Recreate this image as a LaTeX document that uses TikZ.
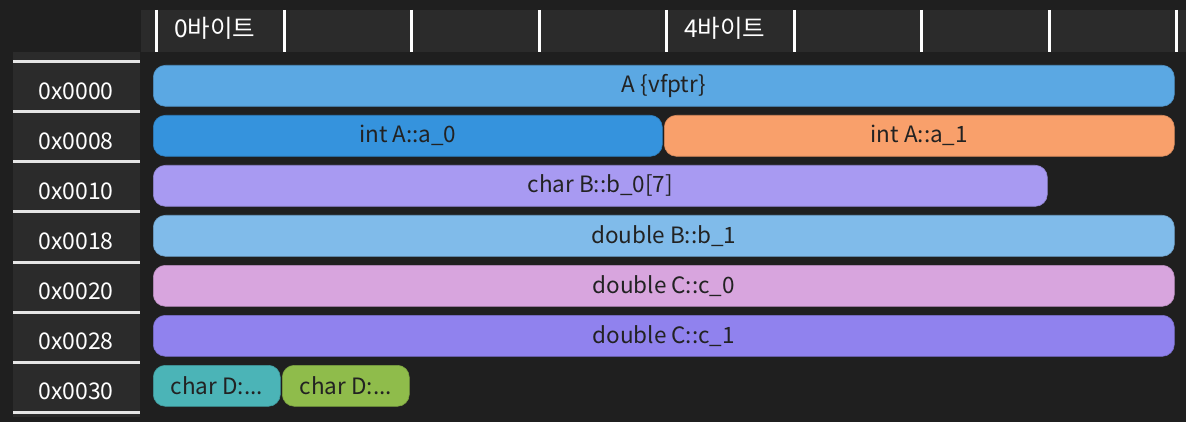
\documentclass[tikz,border=0pt]{standalone}
\usepackage{fontspec}
\setmainfont{Noto Sans CJK KR}
\definecolor{bgc}{HTML}{1F1F1F}
\definecolor{panel}{HTML}{2B2B2B}
\definecolor{txtd}{HTML}{222222}
\definecolor{cvf}{HTML}{5BA8E3}
\definecolor{ca0}{HTML}{3593DD}
\definecolor{ca1}{HTML}{F9A06B}
\definecolor{cb0}{HTML}{A89AF2}
\definecolor{cb1}{HTML}{80BBEA}
\definecolor{cc0}{HTML}{D8A5DE}
\definecolor{cc1}{HTML}{9082EE}
\definecolor{cd0}{HTML}{4BB4B7}
\definecolor{cd1}{HTML}{8FBC4B}
\tikzset{
  bar/.style={anchor=north west, rounded corners=12pt, minimum height=41pt, inner sep=0pt,
    text=txtd, font=\fontsize{22.5}{26}\selectfont, line width=0.6pt},
  addr/.style={text=white, font=\fontsize{23}{26}\selectfont},
  hdr/.style={text=white, anchor=west, inner sep=0pt, font=\fontsize{24.5}{28}\selectfont},
  tick/.style={draw=white, line width=3pt},
  sep/.style={draw=white!90!black, line width=3pt}
}
\begin{document}
\begin{tikzpicture}[x=1pt,y=-1pt]
\fill[bgc] (0,0) rectangle (1186,422);
\useasboundingbox (0,0) rectangle (1186,422);
% header band
\fill[panel] (141,10) rectangle (1186,52);
\foreach \i in {0,...,8} {
  \coordinate (t\i a) at ({156.5+127.5*\i},10);
  \coordinate (t\i b) at ({156.5+127.5*\i},52);
  \draw[tick] (t\i a) -- (t\i b);
}
\node[hdr] (h0) at (174,28) {0바이트};
\node[hdr] (h4) at (684,28) {4바이트};
% address column
\fill[panel] (13,52) rectangle (140,417);
\foreach \i in {0,...,7} {
  \coordinate (s\i a) at (13,{62+50*\i});
  \coordinate (s\i b) at (140,{62+50*\i});
  \draw[sep] (s\i a) -- (s\i b);
}
\node[addr] (r0) at (76,91) {0x0000};
\node[addr] (r1) at (76,141) {0x0008};
\node[addr] (r2) at (76,191) {0x0010};
\node[addr] (r3) at (76,241) {0x0018};
\node[addr] (r4) at (76,291) {0x0020};
\node[addr] (r5) at (76,341) {0x0028};
\node[addr] (r6) at (76,391) {0x0030};
% bars
\node[bar, fill=cvf, draw=cvf!85!black, minimum width=1021pt] (vf) at (153,65) {A {\{}vfptr{\}}};
\node[bar, fill=ca0, draw=ca0!85!black, minimum width=509pt] (a0) at (153,115) {int A::a\_0};
\node[bar, fill=ca1, draw=ca1!85!black, minimum width=510pt] (a1) at (664,115) {int A::a\_1};
\node[bar, fill=cb0, draw=cb0!85!black, minimum width=894pt] (b0) at (153,165) {char B::b\_0[7]};
\node[bar, fill=cb1, draw=cb1!85!black, minimum width=1021pt] (b1) at (153,215) {double B::b\_1};
\node[bar, fill=cc0, draw=cc0!85!black, minimum width=1021pt] (c0) at (153,265) {double C::c\_0};
\node[bar, fill=cc1, draw=cc1!85!black, minimum width=1021pt] (c1) at (153,315) {double C::c\_1};
\node[bar, fill=cd0, draw=cd0!85!black, minimum width=127pt] (d0) at (153,365) {char D:...};
\node[bar, fill=cd1, draw=cd1!85!black, minimum width=127pt] (d1) at (282,365) {char D:...};
\end{tikzpicture}
\end{document}
